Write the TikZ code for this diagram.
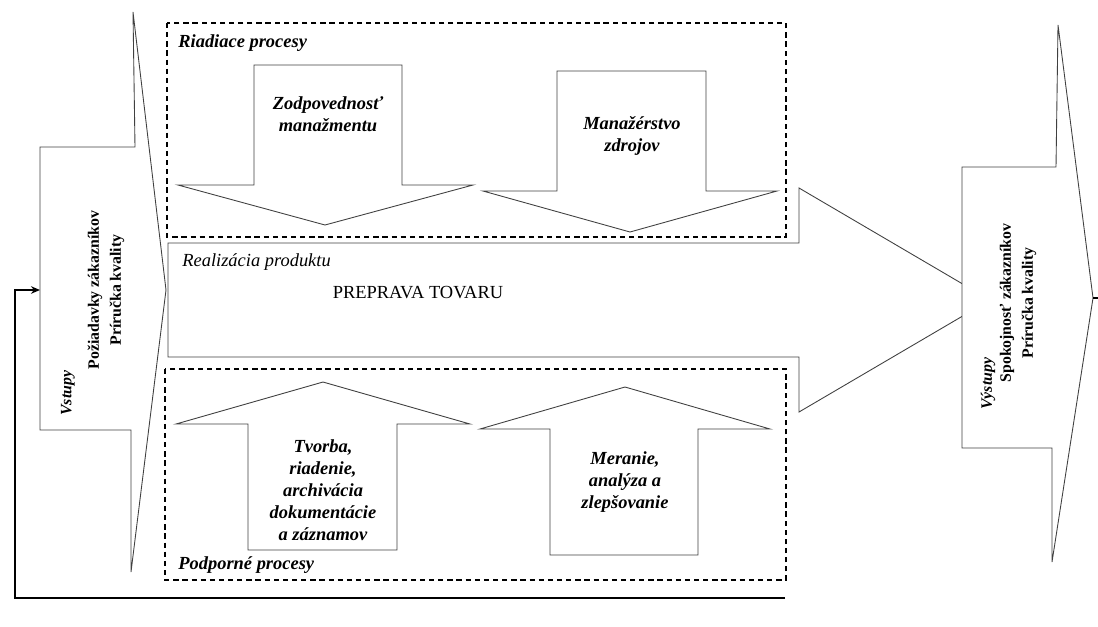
\documentclass[tikz,border=0pt]{standalone}
\usepackage{fontspec}
\setmainfont{Liberation Serif}
\usetikzlibrary{arrows.meta}

\begin{document}
\begin{tikzpicture}[
  x=0.02cm,y=-0.02cm,
  font=\fontsize{10.5}{12.5}\selectfont,
  >={Stealth[length=1.8mm,width=1.5mm]},
  blk/.style={draw=black!75, fill=white, line width=0.5pt},
  grp/.style={draw, dash pattern=on 3pt off 2.2pt, line width=0.8pt},
  ttl/.style={anchor=west, inner sep=0pt, font=\fontsize{10.5}{12.5}\selectfont\bfseries\itshape},
  txt/.style={align=center, inner sep=1pt, font=\fontsize{10.5}{12.5}\selectfont\bfseries\itshape},
  side/.style={rotate=90, align=center, inner sep=0pt, font=\fontsize{9}{12.5}\selectfont\bfseries},
  fb/.style={line width=0.9pt},
]
\useasboundingbox (0,0) rectangle (1098,626);

%% ---------- GROUP FRAMES ----------
\draw[grp] (167,23) rectangle (786,237);
\draw[grp] (165,369) rectangle (786,580);
\node[ttl] (riad) at (178,43) {Riadiace procesy};
\node[ttl] (podp) at (178,565) {Podporné procesy};

%% ---------- INPUT ----------
\draw[blk] (40,147) -- (135,147) -- (133,12) -- (166,290) -- (131,572)
  -- (131,430) -- (40,430) -- cycle;
\coordinate (inbox) at (40,290);
\node[side] (inlbl) at (106,290) {Požiadavky zákazníkov\\Príručka kvality};
\node[side, anchor=west, font=\fontsize{9}{12.5}\selectfont\bfseries\itshape] (invst) at (68,416) {Vstupy};

%% ---------- PRODUCT REALIZATION ----------
\draw[blk] (168,243) -- (799,243) -- (799,188) -- (990,300) -- (799,412)
  -- (799,357) -- (168,357) -- cycle;
\node[anchor=west, inner sep=0pt, font=\fontsize{10.5}{12.5}\selectfont\itshape] (real) at (182,262) {Realizácia produktu};
\node[inner sep=0pt] (prep) at (418,293) {PREPRAVA TOVARU};

%% ---------- MANAGING PROCESSES ----------
\draw[blk] (254,65) -- (402,65) -- (402,185) -- (473,185) -- (325,225)
  -- (178,185) -- (254,185) -- cycle;
\node[txt] (zodp) at (328,114) {Zodpovednosť\\manažmentu};
\draw[blk] (557,71) -- (706,71) -- (706,191) -- (777,191) -- (630,232)
  -- (483,191) -- (557,191) -- cycle;
\node[txt] (manaz) at (632,136) {Manažérstvo\\zdrojov};

%% ---------- SUPPORT PROCESSES ----------
\draw[blk] (248,550) -- (248,424) -- (176,424) -- (323,382) -- (470,424)
  -- (397,424) -- (397,550) -- cycle;
\node[txt] (tvorba) at (323,490) {Tvorba,\\riadenie,\\archivácia\\dokumentácie\\a záznamov};
\draw[blk] (550,555) -- (550,429) -- (480,429) -- (625,387) -- (770,429)
  -- (698,429) -- (698,555) -- cycle;
\node[txt] (meranie) at (625,482) {Meranie,\\analýza a\\zlepšovanie};

%% ---------- OUTPUT ----------
\draw[blk] (962,167) -- (1056,167) -- (1058,25) -- (1093,298) -- (1052,562)
  -- (1052,448) -- (962,448) -- cycle;
\coordinate (outtip) at (1093,298);
\node[side] (outlbl) at (1018,303) {Spokojnosť zákazníkov\\Príručka kvality};
\node[side, anchor=west, font=\fontsize{9}{12.5}\selectfont\bfseries\itshape] (outvst) at (988,410) {Výstupy};

%% ---------- FEEDBACK ----------
\coordinate (fbR) at (1098,298);
\coordinate (fbB) at (785,598);
\coordinate (fbL) at (15,598);
\draw[fb] (outtip) -- (fbR);
\draw[fb,->] (fbB) -- (fbL) |- (inbox);
\end{tikzpicture}
\end{document}
